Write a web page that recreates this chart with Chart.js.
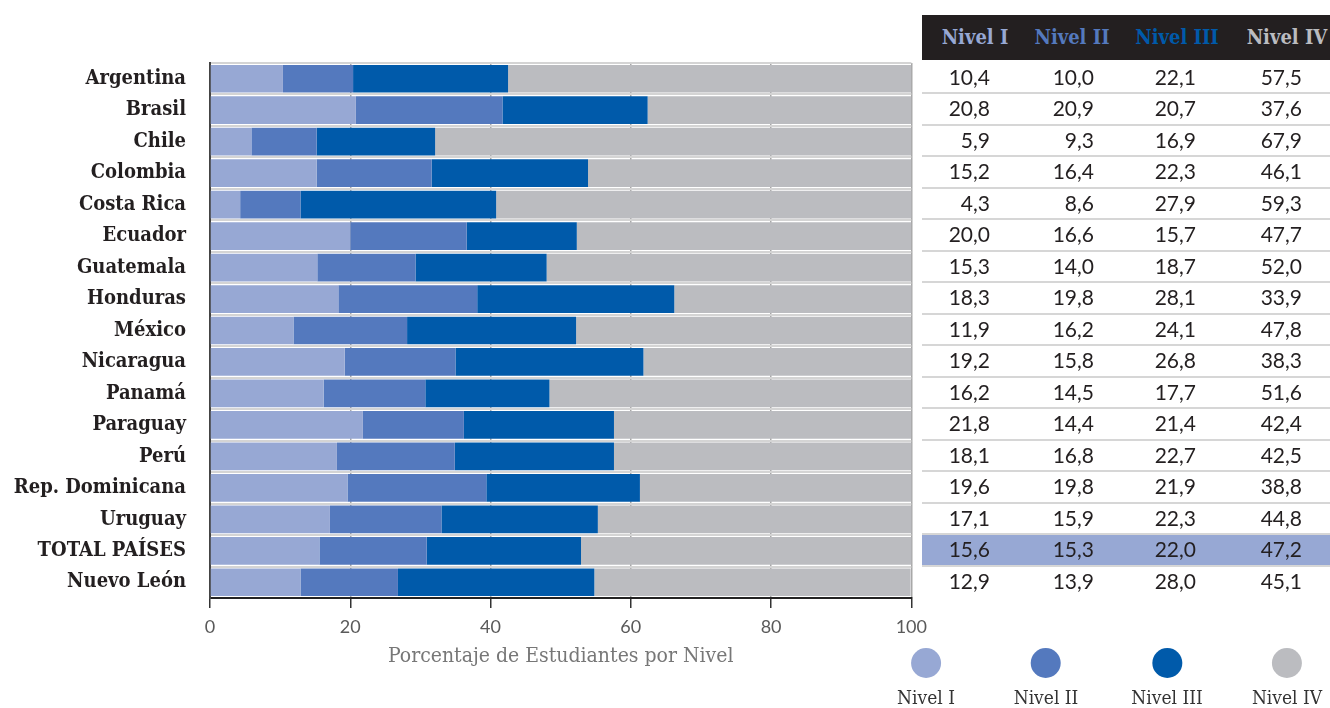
<!DOCTYPE html>
<html>
<head>
<meta charset="utf-8">
<script src="https://cdn.jsdelivr.net/npm/chart.js@4"></script>
<style>
  body { margin: 0; background: #fff; }
  #wrap { position: relative; width: 1330px; height: 708px; overflow: hidden; }
  #chart { position: absolute; left: 0; top: 0; }
  .hdr { position: absolute; left: 922px; top: 15px; width: 408px; height: 45px; background: #231f20; }
  .hcell { position: absolute; top: 0; height: 45px; line-height: 45px; transform: translateX(-50%);
           font-family: 'DejaVu Serif Condensed', 'DejaVu Serif', serif; font-weight: bold; font-size: 20px; white-space: nowrap; }
  .row { position: absolute; left: 922px; width: 408px; box-sizing: border-box; }
  .cell { position: absolute; top: 0; font-family: Lato, sans-serif; font-size: 21px; color: #231f20; white-space: nowrap; }
  .leg { position: absolute; transform: translateX(-50%); text-align: center; }
  .dot { width: 30px; height: 30px; border-radius: 50%; margin: 0 auto; }
  .leglabel { font-family: 'DejaVu Serif Condensed', 'DejaVu Serif', serif; font-size: 19px; line-height: 22px; color: #333; margin-top: 8px; white-space: nowrap; }
</style>
</head>
<body>
<div id="wrap">
  <canvas id="chart" width="935" height="680"></canvas>
  <div class="hdr" id="hdr"></div>
  <div id="table"></div>
  <div id="legend"></div>
</div>
<script>
const countries = ['Argentina', 'Brasil', 'Chile', 'Colombia', 'Costa Rica', 'Ecuador', 'Guatemala', 'Honduras',
  'México', 'Nicaragua', 'Panamá', 'Paraguay', 'Perú', 'Rep. Dominicana', 'Uruguay', 'TOTAL PAÍSES', 'Nuevo León'];
const nivel1 = [10.4, 20.8, 5.9, 15.2, 4.3, 20.0, 15.3, 18.3, 11.9, 19.2, 16.2, 21.8, 18.1, 19.6, 17.1, 15.6, 12.9];
const nivel2 = [10.0, 20.9, 9.3, 16.4, 8.6, 16.6, 14.0, 19.8, 16.2, 15.8, 14.5, 14.4, 16.8, 19.8, 15.9, 15.3, 13.9];
const nivel3 = [22.1, 20.7, 16.9, 22.3, 27.9, 15.7, 18.7, 28.1, 24.1, 26.8, 17.7, 21.4, 22.7, 21.9, 22.3, 22.0, 28.0];
const nivel4 = [57.5, 37.6, 67.9, 46.1, 59.3, 47.7, 52.0, 33.9, 47.8, 38.3, 51.6, 42.4, 42.5, 38.8, 44.8, 47.2, 45.1];
const levelNames = ['Nivel I', 'Nivel II', 'Nivel III', 'Nivel IV'];
const levelColors = ['#97a8d4', '#5479be', '#005aaa', '#bbbcc0'];
const highlightRow = 'TOTAL PAÍSES';
const axisTitle = 'Porcentaje de Estudiantes por Nivel';

const series = [nivel1, nivel2, nivel3, nivel4];

const chart = new Chart(document.getElementById('chart'), {
  type: 'bar',
  data: {
    labels: countries,
    datasets: series.map((vals, i) => ({
      label: levelNames[i],
      data: vals,
      backgroundColor: levelColors[i],
      borderWidth: 0,
      barPercentage: 0.88,
      categoryPercentage: 1,
    })),
  },
  options: {
    indexAxis: 'y',
    responsive: false,
    animation: false,
    layout: { padding: { top: 63, right: 20, left: 0, bottom: 0 } },
    plugins: { legend: { display: false }, tooltip: { enabled: false } },
    scales: {
      x: {
        stacked: true,
        min: 0,
        max: 100,
        z: 1,
        ticks: { stepSize: 20, color: '#5a5a5a', font: { family: 'Lato', size: 18 }, padding: 8 },
        grid: { color: '#a8a8a8', lineWidth: 1.5, tickColor: '#333', tickLength: 10, tickWidth: 1.5 },
        border: { color: '#222', width: 2 },
        title: {
          display: true,
          text: axisTitle,
          color: '#777',
          font: { family: 'DejaVu Serif Condensed', size: 21 },
          padding: { top: 0, bottom: 11 },
        },
        afterFit: (s) => { s.height = 82; },
      },
      y: {
        stacked: true,
        ticks: { color: '#231f20', font: { family: 'DejaVu Serif Condensed', weight: 'bold', size: 20 }, padding: 24 },
        grid: { offset: true, color: '#d4d4d4', lineWidth: 2, drawTicks: false },
        border: { color: '#444', width: 2 },
        afterFit: (s) => { s.width = 210; },
      },
    },
  },
});

// table on the right, rows lined up with the bars
const fmt = (v) => v.toFixed(1).replace('.', ',');
const hdrCenters = [53, 150, 255, 365];
const colRights = [68, 172, 274, 380];
const hdr = document.getElementById('hdr');
levelNames.forEach((n, i) => {
  const d = document.createElement('div');
  d.className = 'hcell';
  d.style.left = hdrCenters[i] + 'px';
  d.style.color = levelColors[i];
  d.textContent = n;
  hdr.appendChild(d);
});

const yScale = chart.scales.y;
const area = chart.chartArea;
const rowH = (area.bottom - area.top) / countries.length;
const table = document.getElementById('table');
countries.forEach((c, r) => {
  const yc = yScale.getPixelForValue(r);
  const row = document.createElement('div');
  row.className = 'row';
  row.style.top = (yc - rowH / 2) + 'px';
  row.style.height = rowH + 'px';
  if (r < countries.length - 1) row.style.borderBottom = '2px solid #d6d6d6';
  if (c === highlightRow) row.style.background = levelColors[0];
  series.forEach((vals, i) => {
    const cell = document.createElement('div');
    cell.className = 'cell';
    cell.style.right = (408 - colRights[i]) + 'px';
    cell.style.lineHeight = (rowH - 3) + 'px';
    cell.textContent = fmt(vals[r]);
    row.appendChild(cell);
  });
  table.appendChild(row);
});

// legend with dots above the labels
const legCenters = [926, 1046, 1167, 1287];
const legend = document.getElementById('legend');
levelNames.forEach((n, i) => {
  const d = document.createElement('div');
  d.className = 'leg';
  d.style.left = legCenters[i] + 'px';
  d.style.top = '648px';
  d.innerHTML = '<div class="dot" style="background:' + levelColors[i] + '"></div><div class="leglabel">' + n + '</div>';
  legend.appendChild(d);
});
</script>
</body>
</html>
